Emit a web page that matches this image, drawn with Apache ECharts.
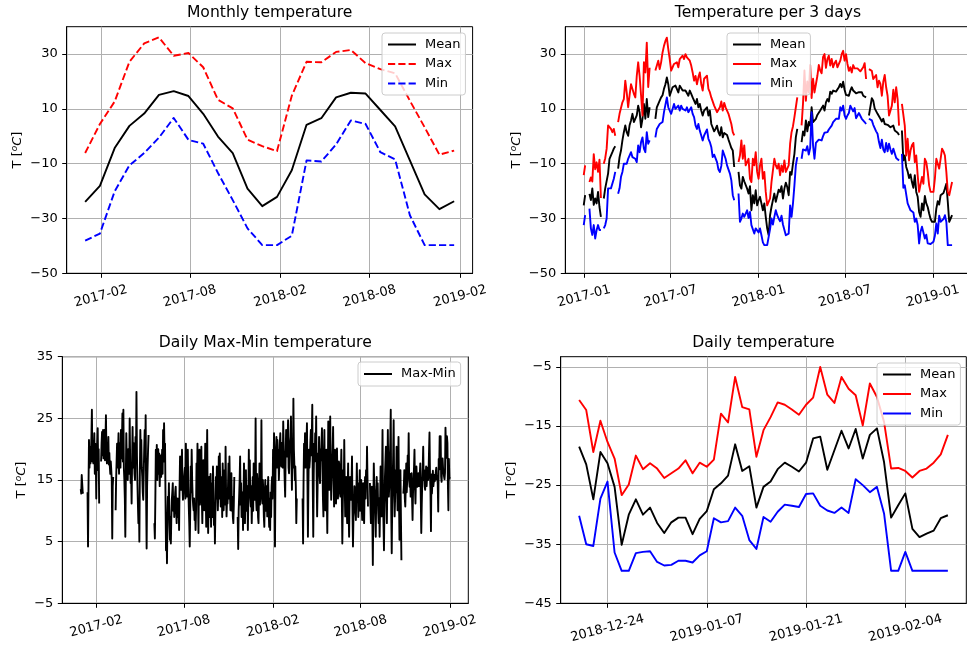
<!DOCTYPE html>
<html><head><meta charset="utf-8">
<script src="https://cdn.jsdelivr.net/npm/echarts@6/dist/echarts.min.js"></script>
<style>html,body{margin:0;padding:0;background:#fff}#c{width:967px;height:648px}</style>
</head><body><div id="c"></div>
<script>
// ---------- DATA ----------
const monthlyDates = ['2016-12-31','2017-01-30','2017-03-01','2017-03-31','2017-04-30','2017-05-30','2017-06-29','2017-07-29','2017-08-28','2017-09-27','2017-10-27','2017-11-26','2017-12-26','2018-01-25','2018-02-24','2018-03-26','2018-04-25','2018-05-25','2018-06-24','2018-07-24','2018-08-23','2018-09-22','2018-10-22','2018-11-21','2018-12-21','2019-01-20'];
const monthlyMean = [-23.9,-18.1,-4.3,3.8,8.3,15.1,16.5,14.7,8.2,-0.1,-6.1,-19.1,-25.5,-22.1,-12.4,4.2,6.6,14.2,15.9,15.6,9.6,3.6,-8.8,-21.2,-26.6,-23.7];
const monthlyMax = [-6.1,4.5,12.7,27.2,33.9,36.1,29.4,30.4,25.2,13.3,10.2,-1.2,-3.6,-5.4,14.8,27.2,27.0,30.8,31.5,26.7,24.5,23.0,13.0,3.3,-6.7,-5.2];
const monthlyMin = [-38.1,-35.5,-20.1,-10.6,-6.1,-0.5,6.7,-1.3,-2.7,-13.4,-23.3,-33.6,-39.7,-39.7,-36.3,-8.8,-9.2,-3.0,5.8,4.5,-5.8,-8.4,-28.8,-39.7,-39.7,-39.7];

const threeDayStart = '2016-12-31';
const threeDayStepDays = 3;
const threeDayMean = [
-25.2,-21.5,null,null,-21,-23.3,-19,-25,-22.7,-24.5,
-20.3,-25.8,-29.4,null,-22.7,-19,-18.5,-13.6,-8.2,-7.6,
-5.8,-4.5,-3.6,null,-11.8,-7.6,-5.2,-1.5,1.5,4,
1.5,0.2,4,5.8,8.2,5.2,5.2,7.6,11.2,8.8,
3.3,6.4,11.8,6.4,13.6,7,10.6,null,null,null,
6.4,10.6,10,13,14.2,15,17.3,19,21.5,19,
14.8,15.5,17.9,17.3,18.5,17.9,16,18.5,17.9,16.7,
17.3,16.7,16,14.8,16.7,15.5,14.2,13,11.8,13.6,
10.6,11.8,9.4,7.6,9.4,10,10.6,7.6,9.4,4.5,
4.5,1.8,2.7,3.9,1.5,0.3,3.3,-0.4,1.2,1.2,
0.5,-1.2,-2.7,-4.3,-5.2,-11.2,null,null,-13,-17.9,
-19.1,-14.8,-16.4,-16.9,-19.1,-20.9,-18.2,-27,-21.5,-24.5,
-19.7,-25.2,-23.3,-22.1,-21.5,-27,-24.5,-29.4,-33.6,-36,
-28.8,-25.8,-23.3,-20.9,-23.9,-23.3,-19.5,-20.3,-18.2,-22.7,
-19.1,-16.9,-18.5,-21.5,-13,-14,-10,-6.4,-0.3,2.7,
null,null,-2.1,1.8,0.3,5.8,1.8,5.2,3.9,10.6,
5.2,4.5,6.4,7.8,7.6,9.4,10,11.2,9.4,12.4,
13.6,12.7,16.3,15.5,16.7,17.3,16.3,16.7,17.9,19.1,
17.9,19.9,17,15.1,14.6,14.8,16.7,17.9,16.7,17.3,
15.7,16.4,16.1,15.5,16.1,14.8,14.8,14.2,null,7.6,
8.2,13.9,13,10.2,10.6,8.2,7.8,6.4,5.4,6.4,
4.5,5.2,4.2,3.9,3.3,2.7,3.9,2.1,1.8,1.3,
0.5,null,2.1,-8.8,-7,-11.2,-12.8,-15.2,-13.9,-16.7,
-18.8,-14.2,-20.3,-22.1,-27.6,-29.4,-24.5,-27,-21.8,-24.5,
-25.8,-28.2,-30.2,-31.2,-31.2,-31.2,-26.4,-23.7,-24.9,-21.5,
-20.9,-20.7,-19.1,-17.3,-23.9,-31.2,-30,-28.8];
const threeDayMax = [
-14.2,-10.6,null,null,-16.7,-15,-16.5,-6.5,-12,-9.5,
-13,-8.5,-22.5,null,-10,-8,-4.5,4,4.5,2.7,
1.5,2.7,0.2,null,5.2,8.2,8.8,12.4,13.6,20.3,
16,10.6,15,19,19,15.5,14.2,22,27,22,
15,7.6,27,23.3,34.2,18,25,null,null,null,
24,24.5,27.6,24.5,27,30.6,33,34.8,36,31.8,
28.2,24,25.2,26.4,25.8,27,25.2,28.2,28.8,29.4,
28.2,30,28.8,29.4,27.6,25.8,23.3,20.3,22,19,
21.5,23.3,19,16.7,21,20.3,22.1,17.3,16.1,14.2,
14.8,11.2,11.2,8.8,8.2,10.6,12.7,9.4,12.2,10.6,
9.4,8.2,7.6,4.5,1.5,0.3,null,null,-9.4,-7,
-1.5,-8.2,-3.3,-10.6,-10.6,-8.2,-15.5,-16.7,-8.2,-10.6,
-5.8,-13,-15.5,-10.6,-8.2,-15.5,-13,-20.3,-25.2,-25.8,
-22.7,-16.7,-12.4,-8.2,-10.6,-11.8,-10,-14.2,-10.6,-13,
-8.8,-13,-13,-10.6,-2.7,1.5,3.7,7,10.6,14.2,
null,null,4,12,24,13,20,16,26,14,
21,16,19,22,26,24,23,29,30,25,
28.2,29.4,25.8,28.2,25.2,26.7,27.6,25.2,25.2,27.6,
30,31.2,27.6,30,26.4,23.9,25.2,23.3,26,24.8,
25.2,24.8,24.3,23.7,23.3,25.2,26.7,20.9,null,24.5,
24.5,23.9,20.9,20.5,22.4,17.9,20.3,19.1,14.8,19.9,
22.4,17.9,14.8,7.6,7.6,11.2,17,12.4,17.9,13.6,
3.9,null,11.8,11.2,3.9,-7,-0.9,-8.8,-5.2,-3.3,
-2.4,-9.4,-7,-14.2,-20.3,-20.3,-14.8,-17.3,-8.2,-9.4,
-13,-17.9,-20.3,-20.9,-20.3,-15.5,-8.2,-8.8,-11.8,-8.2,
-4.5,-5.5,-7,-13,-20.3,-21.5,-19.1,-16.7];
const threeDayMin = [
-32.4,-28.8,null,null,-26.4,-33.6,-36,-32.4,-37.3,-34.2,
-32.4,-34.2,-34.2,null,-33.6,-32.4,-30,-19,-19,-19,
-19,-15.5,-13,null,-21,-19,-14.8,-13,-10,-10.6,
-10,-8.2,-8.8,-5.8,-7.6,-7,-8.2,-9.4,-3.3,-5.8,
-2.1,-0.4,-4.5,-5.8,1.5,-2.7,-1.5,null,null,null,
-0.4,2.7,2.7,4.5,4,5.2,8.8,9.4,14.2,10.6,
11.2,8.2,10,11.8,10,10.6,11.2,9.4,11.2,10,
10.6,9.4,10.6,8.8,9.4,10.6,8.2,7,4,2.7,
4.5,2,0.3,-1.5,0.3,0.9,2.5,-0.9,-2.1,-3.9,
-7.6,-6.7,-7,-9.4,-12.1,-13,-10.8,-5.2,-5.5,-8.2,
-10.6,-10.6,-13.6,-16.1,-21.5,-23.3,null,null,-20.9,-31.2,
-30,-28.2,-29.4,-29.4,-27,-29.8,-27.6,-32.4,-31.8,-35.5,
-33.6,-34.2,-35.1,-33.6,-36.1,-38.7,-39.7,-39.7,-39.7,-39.1,
-33.9,-30,-32.2,-29.4,-27,-28.8,-30,-31,-29,-32.2,
-31.8,-36.1,-36.1,-35.5,-25.2,-29.4,-24.5,-17.9,-10.6,-7.6,
null,null,-8.2,-4.8,-5.2,-5.2,-3.6,-6.7,-4.3,8.8,
-3.3,-8.2,-2.4,-2.7,-1.2,-0.7,-1.5,0.1,1.3,0.9,
1.5,2.5,1.8,3.9,5.2,4.5,6.4,5.8,6.4,10.6,
9.4,11.2,7.6,6.4,7.6,8.5,11.2,11.8,9.1,10.3,
6.6,7.3,8.5,9.1,6.4,7,5.2,4.5,null,6.4,
6.1,5.8,4.2,3.9,1.8,0.9,-2.1,-4.3,-1.2,-4.8,
-5.8,-2.4,-5.5,-2.7,-4.8,-6.4,-4.5,-5.2,-7.9,-8.2,
-8.8,null,-6.4,-18.8,-17.9,-18.5,-24.5,-25.2,-27,-27.6,
-27.8,-31.2,-30,-32.4,-39.1,-34.8,-33,-32.4,-37.3,-35.9,
-39.1,-39.7,-39.3,-39.1,-38.5,-36.3,-31.8,-35.5,-29,-31.2,
-30.6,-30.2,-28.8,-31.2,-39.7,-39.7,-39.7,-39.7];

const dailyStart = '2016-12-31';
const dailyMaxMin = [
13.5,12.8,15.8,15.5,13.0,12.8,null,null,null,null,
null,null,null,null,13.0,4.2,14.0,21.5,17.0,20.4,
17.7,19.0,22.0,26.4,18.0,20.4,17.7,19.9,22.6,16.0,
20.9,18.8,12.0,20.4,21.0,23.4,16.6,20.0,11.2,null,
null,null,18.0,21.0,22.8,19.0,23.1,18.5,21.0,23.1,
18.2,21.5,25.5,19.5,17.7,21.0,19.0,22.0,17.5,19.4,
17.2,16.0,18.0,16.6,15.0,5.5,14.0,15.5,15.5,null,
null,null,10.1,15.0,18.0,20.9,17.0,19.5,22.6,16.0,
21.0,19.3,17.0,23.1,18.5,21.0,25.8,18.0,26.4,17.0,
15.0,12.0,5.8,15.0,22.6,18.5,18.2,15.0,20.0,19.9,
16.0,25.0,18.0,14.5,16.0,11.2,18.0,23.6,17.0,21.0,
20.9,16.0,15.0,22.0,18.0,29.3,19.0,14.5,11.0,8.0,
12.0,5.0,16.0,23.1,19.0,21.5,17.0,15.5,13.0,11.8,
16.0,20.0,23.1,18.0,25.5,12.0,3.9,14.0,17.2,20.0,
22.3,null,null,null,null,null,null,null,null,null,
null,null,8.0,5.5,12.0,19.9,17.0,20.7,15.0,18.2,
20.0,16.0,19.3,14.0,17.2,19.0,15.5,17.0,19.9,16.0,
23.1,18.0,24.2,19.0,20.9,12.0,3.6,8.0,1.5,9.0,
12.3,10.0,14.5,8.0,5.3,9.0,4.7,9.0,11.8,13.0,
14.5,10.0,12.3,9.0,11.2,13.0,13.9,10.0,8.0,12.0,
11.2,9.0,12.0,6.9,14.0,18.8,15.0,13.4,16.0,19.9,
14.0,11.8,13.0,15.0,15.0,17.0,12.0,20.9,16.0,12.3,
15.0,19.9,14.0,10.7,8.0,4.2,10.0,17.2,13.0,19.9,
15.0,12.3,11.0,10.1,12.0,8.5,11.0,6.9,10.0,17.7,
14.0,20.9,13.0,6.4,15.0,19.9,11.0,12.3,17.0,20.4,
12.0,8.0,14.0,18.2,12.0,10.1,15.0,20.9,13.0,7.4,
15.0,23.1,12.0,6.4,11.0,15.5,9.0,13.4,16.0,7.4,
12.0,14.5,9.0,17.2,13.0,7.7,11.0,4.7,10.0,15.5,
12.0,17.2,14.0,10.1,13.0,18.8,12.0,19.3,14.0,10.7,
13.0,15.5,9.0,17.7,14.0,10.1,13.0,16.6,11.0,20.4,
13.0,9.1,12.0,11.2,14.0,17.7,12.0,18.8,13.0,10.1,
12.0,16.1,10.0,12.3,9.0,8.0,11.0,15.5,null,null,
null,null,null,null,9.0,3.8,10.0,12.3,15.0,18.8,
11.0,14.5,9.0,10.7,13.0,6.9,12.0,17.7,11.0,8.0,
13.0,16.6,10.0,11.8,14.0,6.9,12.0,19.9,13.0,18.2,
12.0,10.7,14.0,8.0,12.0,15.5,10.0,17.7,13.0,11.8,
14.0,25.0,12.0,10.1,16.0,14.5,9.0,8.0,13.0,17.7,
11.0,15.5,13.0,24.7,12.0,11.2,15.0,12.8,9.0,7.4,
13.0,15.0,10.0,12.3,14.0,9.1,13.0,15.5,10.0,7.4,
12.0,6.9,13.0,9.0,14.0,15.5,12.0,19.9,16.0,22.6,
14.0,4.2,16.0,20.0,22.0,17.0,21.5,18.0,19.9,15.0,
17.7,21.0,22.6,18.0,17.2,21.0,20.4,17.0,24.5,20.0,
18.2,15.0,12.3,19.0,23.1,20.0,18.8,21.0,24.7,17.0,
16.1,20.0,19.9,22.0,25.3,18.0,13.4,21.0,17.0,28.2,
20.0,19.9,15.0,17.2,14.0,8.0,12.0,null,null,null,
null,null,null,null,null,null,null,null,12.0,4.7,
15.0,20.9,18.0,22.6,17.0,18.2,21.0,24.2,15.0,5.8,
14.0,19.9,17.0,18.2,21.0,23.1,19.0,22.0,27.2,14.0,
5.8,16.0,20.9,18.0,22.6,19.0,25.3,16.0,9.1,14.0,
19.3,17.0,22.0,16.0,14.5,20.0,18.2,21.0,23.4,23.6,
12.0,9.1,17.0,23.1,14.0,10.1,16.0,19.9,12.0,6.4,
15.0,24.5,18.0,13.4,20.0,25.3,17.0,11.8,15.0,17.2,
20.0,23.6,16.0,10.7,15.0,19.9,14.0,11.2,16.0,20.1,
15.0,12.0,14.5,18.0,17.2,13.0,12.3,16.0,19.9,12.0,
4.7,11.0,16.6,13.0,21.5,14.0,9.1,12.0,15.5,11.0,
8.0,13.0,17.7,10.0,5.8,12.0,15.5,13.0,11.8,14.0,
18.8,10.0,4.2,9.0,10.1,14.0,13.4,11.0,8.5,13.0,
17.7,12.0,14.5,9.0,11.2,13.0,16.6,10.0,12.8,15.0,
11.0,8.5,12.0,14.5,10.0,8.0,13.0,15.5,12.0,16.6,
14.0,20.4,15.0,10.7,null,null,null,14.5,11.0,8.0,
12.0,13.9,9.0,1.2,11.0,17.7,14.0,12.3,9.0,5.8,
12.0,15.5,11.0,14.5,10.0,8.0,12.0,5.8,11.0,17.2,
13.0,9.1,15.0,23.1,12.0,8.0,3.6,11.0,15.5,18.0,
20.4,12.0,8.0,15.0,23.1,16.0,12.3,14.0,18.2,21.0,
26.4,10.0,3.1,11.0,15.0,19.0,24.7,14.0,9.1,12.0,
16.6,13.0,20.4,15.0,10.1,14.0,22.0,12.0,5.3,11.0,
16.6,9.0,2.0,null,null,null,12.8,14.0,16.6,12.0,
10.7,14.0,17.7,13.0,15.0,19.0,16.0,22.6,15.0,13.9,
16.0,12.3,14.0,16.1,12.0,8.5,13.0,15.0,17.0,19.9,
14.0,11.2,15.0,17.2,15.0,13.9,15.0,16.1,14.0,15.0,
16.0,17.7,12.0,6.4,11.0,14.5,17.0,20.4,15.0,16.6,
14.0,13.4,15.0,17.2,14.0,15.5,17.0,15.0,16.0,19.6,
22.7,15.9,13.2,6.7,15.9,12.8,14.6,16.5,14.0,14.9,
15.8,14.8,15.5,15.6,17.0,15.1,15.7,14.3,9.9,18.4,
16.7,22.1,18.4,22.1,15.6,14.7,17.7,18.5,16.9,16.3,
15.6,15.1,16.2,23.5,19.6,18.6,22.1,21.0,14.2,10.1,
18.4,15.2,15.5];

const recentStart = '2018-12-20';
const recentMean = [-18.5,-21.5,-27.4,-19.4,-21.3,-25.3,-35.1,-30,-27.4,-30,-28.8,-31.4,-33.1,-31.3,-30.5,-30.5,-33.3,-30.7,-29.4,-25.7,-24.7,-23.4,-18.1,-22.6,-21.8,-28.8,-25.3,-24.4,-22.3,-21.2,-21.9,-22.7,-21.2,-17.1,-16.8,-22.4,-19.1,-15.8,-18.8,-15.5,-20.5,-16.5,-15.4,-21.1,-30.5,-28.4,-26.4,-32.4,-33.8,-33.2,-32.7,-30.6,-30.1];
const recentMax = [-10.6,-12.3,-19.4,-14.1,-17.7,-20.5,-26.7,-24.9,-20,-22.3,-21.3,-22.2,-23.8,-23,-22.2,-20.8,-23,-21.2,-21.9,-20.7,-12.9,-14.4,-6.7,-11.8,-12.2,-20.2,-15.7,-13.5,-11,-11.4,-12.2,-13.1,-11.4,-10.2,-5,-9.7,-11.1,-6.7,-8.7,-9.8,-14.9,-7.8,-10.1,-14.3,-22.2,-22.1,-22.6,-23.7,-22.6,-22.2,-21.2,-19.8,-16.5];
const recentMin = [-30.2,-35,-35.3,-27.3,-24.4,-36.4,-39.5,-39.5,-36.5,-36.3,-36.2,-38,-38.6,-38.5,-37.8,-37.8,-38.1,-36.9,-36.2,-30.6,-31.3,-31.1,-28.8,-30.2,-34.3,-35.8,-30.4,-31.2,-29.5,-28.3,-28.5,-28.7,-26.5,-26.4,-28.5,-29.3,-29.7,-28.8,-29.7,-24,-25,-26.2,-25.3,-29.8,-39.5,-39.5,-36.3,-39.5,-39.5,-39.5,-39.5,-39.5,-39.5];

const ticksMonthlyX = ['2017-02-01','2017-08-01','2018-02-01','2018-08-01','2019-02-01'];
const ticksThreeDayX = ['2017-01-01','2017-07-01','2018-01-01','2018-07-01','2019-01-01'];
const ticksDailyX = ['2017-02-01','2017-08-01','2018-02-01','2018-08-01','2019-02-01'];
const ticksRecentX = ['2018-12-24','2019-01-07','2019-01-21','2019-02-04'];
const ticksTempY = [-50,-30,-10,10,30];
const ticksRangeY = [-5,5,15,25,35];
const ticksRecentY = [-45,-35,-25,-15,-5];
const legendNames = ['Mean','Max','Min'];

// ---------- BUILD ----------
const FONT = 'DejaVu Sans';
const DAY = 86400000;
const d2t = s => Date.parse(s.length > 10 ? s + 'Z' : s + 'T00:00:00Z');
const seq = (start, n, step) => Array.from({length: n}, (_, i) => d2t(start) + i * step * DAY);
const monthlyT = monthlyDates.map(d2t);
const threeDayT = seq(threeDayStart, threeDayMean.length, threeDayStepDays);
const dailyT = seq(dailyStart, dailyMaxMin.length, 1);
const recentT = seq(recentStart, recentMean.length, 1);
const pairs = (ts, vs) => vs.map((v, i) => [ts[i], v == null ? '-' : v]);

const pad2 = n => String(n).padStart(2, '0');
const fmtMonth = v => { const d = new Date(v); return d.getUTCFullYear() + '-' + pad2(d.getUTCMonth() + 1); };
const fmtDay = v => fmtMonth(v) + '-' + pad2(new Date(v).getUTCDate());
const fmtNum = v => String(v).replace('-', '\u2212');

function xAx(gi, min, max, ticks, fmt, margin) {
  const tv = ticks.map(d2t);
  return {
    type: 'value', gridIndex: gi, min: d2t(min), max: d2t(max), scale: true,
    axisLine: {show: true, onZero: false, lineStyle: {color: '#000', width: 1}},
    axisTick: {show: true, inside: false, length: 4.5, customValues: tv, lineStyle: {color: '#000', width: 1}},
    axisLabel: {show: true, customValues: tv, formatter: fmt, rotate: 15, align: 'center', verticalAlign: 'middle',
      margin: margin, color: '#000', fontFamily: FONT, fontSize: 13, showMinLabel: true, showMaxLabel: true},
    splitLine: {show: true, lineStyle: {color: '#b0b0b0', width: 1}}
  };
}
function yAx(gi, min, max, ticks, nameGap) {
  return {
    type: 'value', gridIndex: gi, min, max,
    name: '{a|T [}{s|o}{i|C}{a|]}', nameLocation: 'middle', nameRotate: 90, nameGap,
    nameTextStyle: {rich: {
      a: {fontFamily: FONT, fontSize: 13, color: '#000'},
      s: {fontFamily: FONT, fontSize: 9, fontStyle: 'italic', color: '#000', padding: [0, 0, 6, 0]},
      i: {fontFamily: FONT, fontSize: 13, fontStyle: 'italic', color: '#000'}
    }},
    axisLine: {show: true, onZero: false, lineStyle: {color: '#000', width: 1}},
    axisTick: {show: true, inside: false, length: 4.5, customValues: ticks, lineStyle: {color: '#000', width: 1}},
    axisLabel: {show: true, customValues: ticks, formatter: fmtNum, margin: 9, color: '#000', fontFamily: FONT, fontSize: 13},
    splitLine: {show: true, lineStyle: {color: '#b0b0b0', width: 1}}
  };
}
function ln(name, gi, ts, vs, color, dashed) {
  return {
    type: 'line', name, xAxisIndex: gi, yAxisIndex: gi, data: pairs(ts, vs),
    symbol: 'none', showSymbol: false, silent: true, color,
    lineStyle: {color, width: 1.9, type: dashed ? [7.2, 3.1] : 'solid', join: 'round', cap: 'butt'},
    itemStyle: {color}, emphasis: {disabled: true}
  };
}
function leg(prefix, names, left, top, padV) {
  return {
    data: names.map(n => prefix + '|' + n), formatter: n => n.split('|')[1],
    orient: 'vertical', align: 'left', left, top, itemWidth: 28, itemHeight: 13, itemGap: 6.5,
    padding: [padV, 5], backgroundColor: 'rgba(255,255,255,0.8)', borderColor: '#cccccc', borderWidth: 1, borderRadius: 3,
    selectedMode: false, itemStyle: {opacity: 0},
    textStyle: {fontFamily: FONT, fontSize: 13, color: '#000', padding: [0, 0, 0, 4]}
  };
}
const titleStyle = {fontFamily: FONT, fontSize: 15.6, fontWeight: 'normal', color: '#000'};
const gridBase = {show: true, borderColor: '#000', borderWidth: 1, containLabel: false, outerBoundsMode: 'none'};

const option = {
  animation: false,
  backgroundColor: '#fff',
  title: [
    {text: 'Monthly temperature', left: 269.6, top: 5, textAlign: 'center', textVerticalAlign: 'top', padding: 0, textStyle: titleStyle},
    {text: 'Temperature per 3 days', left: 767.9, top: 5, textAlign: 'center', textVerticalAlign: 'top', padding: 0, textStyle: titleStyle},
    {text: 'Daily Max-Min temperature', left: 265.3, top: 335, textAlign: 'center', textVerticalAlign: 'top', padding: 0, textStyle: titleStyle},
    {text: 'Daily temperature', left: 763.5, top: 335, textAlign: 'center', textVerticalAlign: 'top', padding: 0, textStyle: titleStyle}
  ],
  grid: [
    Object.assign({left: 66.7, top: 26.7, width: 405.9, height: 246.6}, gridBase),
    Object.assign({left: 565.3, top: 26.7, width: 405.2, height: 246.6}, gridBase),
    Object.assign({left: 62.3, top: 356.7, width: 406, height: 246.6}, gridBase),
    Object.assign({left: 560.7, top: 356.7, width: 405.6, height: 246.6}, gridBase)
  ],
  xAxis: [
    xAx(0, '2016-11-23T12:00:00', '2019-02-26T12:00:00', ticksMonthlyX, fmtMonth, 23),
    xAx(1, '2016-11-22T10:48:00', '2019-03-20T13:12:00', ticksThreeDayX, fmtMonth, 23),
    xAx(2, '2016-11-22T21:36:00', '2019-03-11T02:24:00', ticksDailyX, fmtMonth, 23),
    xAx(3, '2018-12-17T09:36:00', '2019-02-12T14:24:00', ticksRecentX, fmtDay, 25)
  ],
  yAxis: [
    yAx(0, -50, 40, ticksTempY, 41.6),
    yAx(1, -50, 40, ticksTempY, 41.6),
    yAx(2, -5, 35, ticksRangeY, 33.5),
    yAx(3, -45, -3.27, ticksRecentY, 41.6)
  ],
  legend: [
    leg('m', legendNames, 382, 33, 5),
    leg('t', legendNames, 727, 33, 5),
    leg('d', ['Max-Min'], 358, 362, 5.5),
    leg('r', legendNames, 877, 363, 5)
  ],
  series: [
    ln('m|Mean', 0, monthlyT, monthlyMean, '#000000', false),
    ln('m|Max', 0, monthlyT, monthlyMax, '#ff0000', true),
    ln('m|Min', 0, monthlyT, monthlyMin, '#0000ff', true),
    ln('t|Mean', 1, threeDayT, threeDayMean, '#000000', false),
    ln('t|Max', 1, threeDayT, threeDayMax, '#ff0000', false),
    ln('t|Min', 1, threeDayT, threeDayMin, '#0000ff', false),
    ln('d|Max-Min', 2, dailyT, dailyMaxMin, '#000000', false),
    ln('r|Mean', 3, recentT, recentMean, '#000000', false),
    ln('r|Max', 3, recentT, recentMax, '#ff0000', false),
    ln('r|Min', 3, recentT, recentMin, '#0000ff', false)
  ]
};
const chart = echarts.init(document.getElementById('c'), null, {renderer: 'canvas'});
chart.setOption(option);
</script>
</body></html>
